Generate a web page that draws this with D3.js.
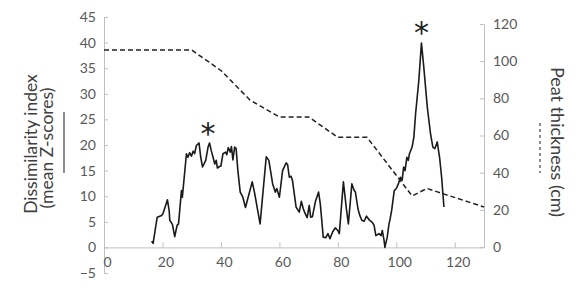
<!DOCTYPE html>
<html>
<head>
<meta charset="utf-8">
<script src="https://cdn.jsdelivr.net/npm/d3@7"></script>
<style>
  body { margin: 0; background: #fff; }
  svg { display: block; font-family: Lato, "Open Sans", sans-serif; }
</style>
</head>
<body>
<svg id="chart" width="580" height="296"></svg>
<script>
// dissimilarity index (mean Z-scores): [x, value]
const dissimilarity = [
  [16.3, 1.2], [16.8, 0.8], [18.2, 5.9], [19.7, 6.25], [20.2, 6.6], [21.7, 9.3],
  [22.3, 7.2], [22.5, 5.3], [23.4, 4.5], [24.2, 2.1], [25.0, 4.3], [25.5, 4.6],
  [26.5, 11.1], [26.8, 9.8], [28.2, 18.3], [28.7, 17.6], [29.3, 18.5], [29.9, 17.8],
  [30.5, 18.8], [31.0, 18.3], [31.6, 19.9], [32.5, 20.4], [33.1, 17.6], [33.7, 15.7],
  [34.8, 17], [35.6, 19.6], [36.1, 20.4], [36.7, 18.9], [37.3, 17.6], [37.9, 16.3],
  [38.4, 17], [38.8, 15.5], [39.5, 15.8], [40.0, 15.9], [40.7, 18.3], [41.6, 18.6],
  [42.0, 18.1], [42.5, 19.5], [43.2, 18.6], [43.6, 19.7], [44.1, 17.1], [44.7, 19.6],
  [45.2, 19.3], [45.8, 15], [46.6, 10.8], [47.5, 9.8], [48.4, 7.8], [50.7, 12.8],
  [51.5, 10.7], [53.4, 4.6], [55.5, 17.7], [56.4, 17], [57.7, 12.4], [58.6, 10.8],
  [59.1, 11.5], [60.0, 9.8], [61.1, 15], [62.3, 16.5], [62.8, 16.2], [63.4, 13.7],
  [64.0, 13.9], [64.5, 13], [65.7, 7.9], [66.8, 6.9], [67.5, 9], [68.2, 7.5],
  [68.6, 6.9], [69.5, 5.8], [70.2, 8.2], [70.7, 5.9], [71.3, 6], [72.3, 8.9],
  [73.4, 10.8], [74.0, 8.5], [75.0, 2], [75.9, 1.9], [76.6, 2.7], [77.3, 1.7],
  [78.2, 3], [79.1, 3.8], [80.0, 3.3], [80.5, 2.7], [81.9, 12.8], [83.0, 7.2],
  [83.6, 4.6], [84.8, 12.4], [85.6, 11.1], [86.0, 10.8], [86.9, 7.5], [87.5, 6.25],
  [88.2, 5.3], [89.0, 5.1], [89.8, 6.1], [90.7, 5.4], [91.8, 4.9], [92.4, 4.3],
  [93.0, 2.3], [94.1, 2.7], [94.8, 2.3], [95.2, 3.3], [95.8, 1.4], [96.1, 0],
  [96.9, 2], [97.5, 4.6], [97.9, 5.6], [98.4, 7.2], [99.0, 9.8], [99.3, 11.1],
  [100.0, 11.5], [100.7, 12.4], [101.4, 13.7], [102.0, 13.1], [102.5, 15.7], [103.0, 15],
  [103.6, 17.6], [104.1, 17], [104.5, 18.3], [105.4, 19.6], [106.0, 21.5], [106.6, 26.1],
  [107.7, 32.6], [108.6, 39.9], [109.4, 35.2], [110.6, 27.4], [111.7, 22.2], [112.5, 19.6],
  [113.2, 19.3], [114.0, 20.6], [114.8, 17.6], [115.5, 13.7], [116.3, 7.9]
];

// peat thickness (cm), dashed line on the right axis: [x, cm]
const peat = [
  [0, 106], [30, 106], [40, 95], [50, 79], [60, 70], [70, 70], [80, 59], [90, 59],
  [105.4, 27.5], [110.5, 31.5], [130, 21.5]
];

// significance markers: [x, value on left axis]
const stars = [[35.6, 23.4], [108.6, 43]];

const leftTicks = [-5, 0, 5, 10, 15, 20, 25, 30, 35, 40, 45];
const rightTicks = [0, 20, 40, 60, 80, 100, 120];
const xTicks = [0, 20, 40, 60, 80, 100, 120];

const svg = d3.select('#chart');
const axisGrey = '#bfbfbf';
const labelGrey = '#595959';

const x = d3.scaleLinear().domain([0, 130]).range([104, 484]);
const yL = d3.scaleLinear().domain([-5, 45]).range([273, 17]);
const yR = d3.scaleLinear().domain([0, 120]).range([247, 24]);

// axes, ticks point into the plot like the original
const gLeft = svg.append('g')
    .attr('transform', 'translate(' + x(0) + ',0)')
    .call(d3.axisLeft(yL).tickValues(leftTicks).tickSizeInner(-4).tickSizeOuter(0).tickPadding(8));

const gRight = svg.append('g')
    .attr('transform', 'translate(' + x(130) + ',0)')
    .call(d3.axisRight(yR).tickValues(rightTicks).tickSizeInner(-4).tickSizeOuter(0).tickPadding(9));

const gBottom = svg.append('g')
    .attr('transform', 'translate(0,' + yL(0) + ')')
    .call(d3.axisBottom(x).tickValues(xTicks).tickSizeInner(-5).tickSizeOuter(0).tickPadding(10));

[gLeft, gRight, gBottom].forEach(function(g) {
    g.selectAll('path, line').attr('stroke', axisGrey);
    g.selectAll('text').attr('fill', labelGrey).style('font-size', '14px')
        .style('font-family', 'Lato, "Open Sans", sans-serif');
});
gBottom.selectAll('text').attr('dx', 3);

// lines
const solid = d3.line()
    .x(function(d) { return x(d[0]); })
    .y(function(d) { return yL(d[1]); });

const dashed = d3.line()
    .x(function(d) { return x(d[0]); })
    .y(function(d) { return yR(d[1]); });

svg.append('path')
    .datum(peat)
    .attr('d', dashed)
    .attr('fill', 'none')
    .attr('stroke', '#222')
    .attr('stroke-width', 1.5)
    .attr('stroke-dasharray', '5,3');

svg.append('path')
    .datum(dissimilarity)
    .attr('d', solid)
    .attr('fill', 'none')
    .attr('stroke', '#1a1a1a')
    .attr('stroke-width', 1.6)
    .attr('stroke-linejoin', 'round');

svg.selectAll('.star')
    .data(stars)
    .enter().append('text')
    .attr('class', 'star')
    .attr('x', function(d) { return x(d[0]); })
    .attr('y', function(d) { return yL(d[1]) + 16; })
    .attr('text-anchor', 'middle')
    .attr('fill', '#222')
    .style('font-family', '"DejaVu Sans", sans-serif')
    .style('font-size', '30px')
    .text('*');

// axis titles with their little line keys
const leftTitle = svg.append('text')
    .attr('transform', 'translate(37,144) rotate(-90)')
    .attr('text-anchor', 'middle')
    .attr('fill', '#404040')
    .style('font-size', '17.5px');
leftTitle.append('tspan').attr('x', 0).attr('dy', 0).text('Dissimilarity index');
leftTitle.append('tspan').attr('x', 0).attr('dy', 15.5).attr('dx', -4).text('(mean Z-scores)');

svg.append('line')
    .attr('x1', 64).attr('x2', 64).attr('y1', 112).attr('y2', 173)
    .attr('stroke', '#404040').attr('stroke-width', 1.2);

svg.append('text')
    .attr('transform', 'translate(551,142) rotate(90)')
    .attr('text-anchor', 'middle')
    .attr('fill', '#404040')
    .style('font-size', '18px')
    .text('Peat thickness (cm)');

svg.append('line')
    .attr('x1', 540).attr('x2', 540).attr('y1', 123).attr('y2', 173)
    .attr('stroke', '#404040').attr('stroke-width', 1.2)
    .attr('stroke-dasharray', '3,3');
</script>
</body>
</html>
